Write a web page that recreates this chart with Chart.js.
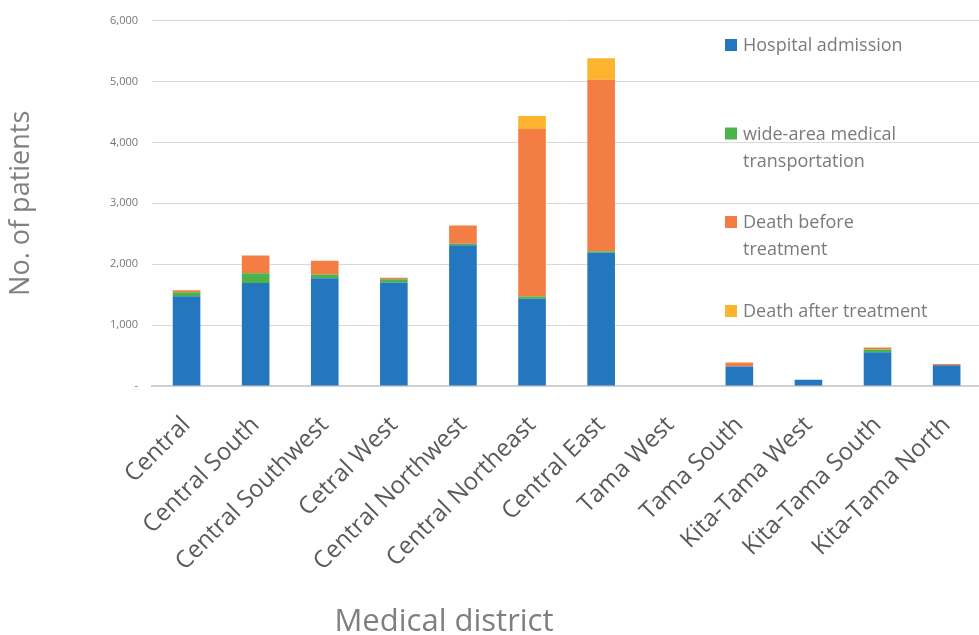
<!DOCTYPE html>
<html>
<head>
<meta charset="utf-8">
<title>Patients by medical district</title>
<script src="https://cdn.jsdelivr.net/npm/chart.js@4/dist/chart.umd.min.js"></script>
<style>
    html, body { margin: 0; padding: 0; background: #fff; overflow: hidden; }
    .chart-wrap { position: relative; width: 992px; height: 635px; }
</style>
</head>
<body>
<div class="chart-wrap">
    <canvas id="districtChart"></canvas>
</div>
<script>
// Categories and series
const districts = ['Central', 'Central South', 'Central Southwest', 'Cetral West', 'Central Northwest',
    'Central Northeast', 'Central East', 'Tama West', 'Tama South', 'Kita-Tama West', 'Kita-Tama South', 'Kita-Tama North'];

const hospitalAdmission = [1475, 1690, 1768, 1698, 2311, 1432, 2187, 0, 320, 103, 555, 342];
const wideAreaTransport = [66, 162, 64, 55, 23, 38, 26, 0, 0, 0, 44, 0];
const deathBeforeTreatment = [30, 290, 224, 26, 300, 2750, 2815, 0, 66, 0, 32, 20];
const deathAfterTreatment = [0, 0, 0, 0, 0, 213, 355, 0, 0, 0, 0, 0];

const seriesNames = ['Hospital admission', 'wide-area medical transportation', 'Death before treatment', 'Death after treatment'];
const legendLines = [['Hospital admission'], ['wide-area medical', 'transportation'], ['Death before', 'treatment'], ['Death after treatment']];
const seriesColors = ['#2477be', '#4cb24a', '#f47d43', '#fcb42e'];

const yTicks = [0, 1000, 2000, 3000, 4000, 5000, 6000];

Chart.defaults.font.family = "'Open Sans', sans-serif";

// Legend and x-axis title are placed by hand, like the original layout
const overlayText = {
    id: 'overlayText',
    afterDraw(chart) {
        const ctx = chart.ctx;
        ctx.save();
        const rowCenters = [45, 133.5, 222, 311];
        ctx.font = "18px 'Open Sans', sans-serif";
        ctx.textAlign = 'left';
        ctx.textBaseline = 'alphabetic';
        legendLines.forEach((lines, i) => {
            ctx.fillStyle = seriesColors[i];
            ctx.fillRect(725, rowCenters[i] - 6, 12, 12);
            ctx.fillStyle = '#7a7a7a';
            lines.forEach((line, j) => {
                ctx.fillText(line, 743, rowCenters[i] + 6 + j * 27);
            });
        });

        ctx.font = "31px 'Open Sans', sans-serif";
        ctx.textAlign = 'center';
        ctx.fillStyle = '#7f7f7f';
        ctx.fillText('Medical district', 444, 631);
        ctx.restore();
    }
};

const ctx = document.getElementById('districtChart').getContext('2d');
new Chart(ctx, {
    type: 'bar',
    data: {
        labels: districts,
        datasets: [hospitalAdmission, wideAreaTransport, deathBeforeTreatment, deathAfterTreatment].map((values, i) => ({
            label: seriesNames[i],
            data: values,
            backgroundColor: seriesColors[i],
            borderWidth: 0,
            categoryPercentage: 1,
            barPercentage: 0.4
        }))
    },
    options: {
        responsive: true,
        maintainAspectRatio: false,
        animation: false,
        layout: {
            padding: { top: 19, left: 0, right: 0, bottom: 0 }
        },
        plugins: {
            legend: { display: false },
            tooltip: { enabled: false }
        },
        scales: {
            x: {
                stacked: true,
                grid: { display: false, drawTicks: false },
                border: { color: '#d0d0d0', width: 2 },
                ticks: {
                    autoSkip: false,
                    minRotation: 45,
                    maxRotation: 45,
                    padding: 25,
                    color: '#595959',
                    font: { size: 24 }
                },
                afterFit: function(scale) {
                    scale.height = 249;
                }
            },
            y: {
                stacked: true,
                min: yTicks[0],
                max: yTicks[yTicks.length - 1],
                afterBuildTicks: function(scale) {
                    scale.ticks = yTicks.map(v => ({ value: v }));
                },
                grid: { color: '#d9d9d9', lineWidth: 1, drawTicks: false },
                border: { display: false },
                ticks: {
                    padding: 14,
                    color: '#767676',
                    font: { size: 11 },
                    callback: function(value) {
                        return value === 0 ? '-' : value.toLocaleString('en-US');
                    }
                },
                title: {
                    display: true,
                    text: 'No. of patients',
                    color: '#808080',
                    font: { size: 27 },
                    padding: { top: 5, bottom: 0 }
                },
                afterFit: function(scale) {
                    scale.width = 152;
                }
            }
        }
    },
    plugins: [overlayText]
});
</script>
</body>
</html>
